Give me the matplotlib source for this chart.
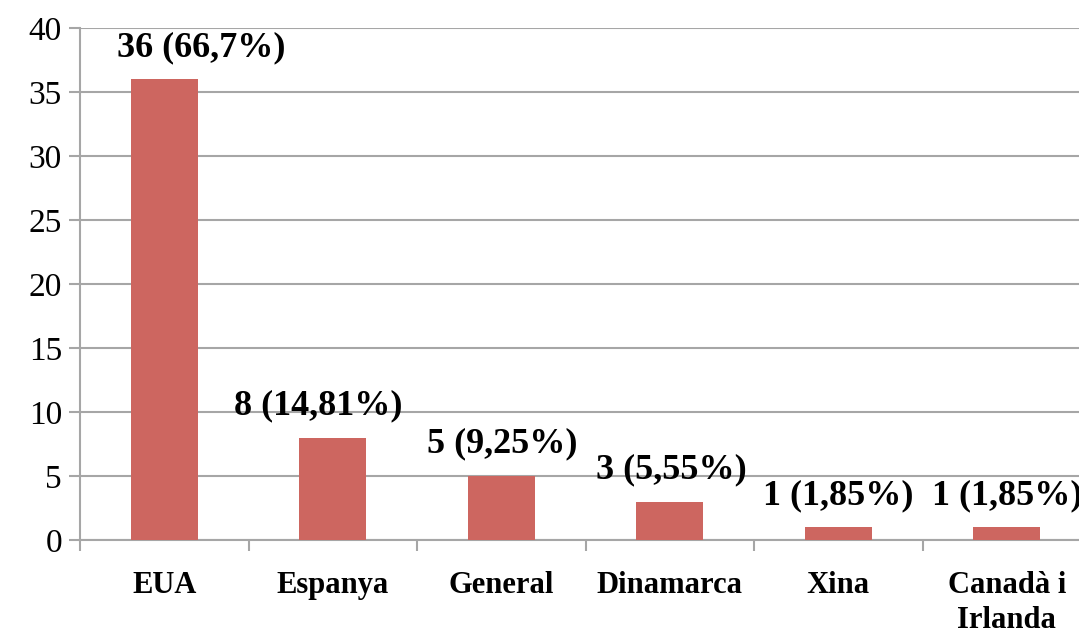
import numpy as np
import matplotlib.pyplot as plt

categories = ["EUA", "Espanya", "General", "Dinamarca", "Xina", "Canadà i\nIrlanda"]
counts = [36, 8, 5, 3, 1, 1]
labels = ["36 (66,7%)", "8 (14,81%)", "5 (9,25%)", "3 (5,55%)", "1 (1,85%)", "1 (1,85%)"]
yticks = [0, 5, 10, 15, 20, 25, 30, 35, 40]

BAR_COL = "#CD6660"
GRID_COL = "#A6A6A6"

plt.rcParams["font.family"] = ["Liberation Serif", "DejaVu Serif"]

fig = plt.figure(figsize=(10.79, 6.28), dpi=100)
ax = fig.add_axes([80 / 1079, 1 - 540 / 628, (1091 - 80) / 1079, (540 - 28) / 628])

x = np.arange(len(categories))
ax.bar(x, counts, width=0.4, color=BAR_COL, zorder=3)

# label x-offsets in pixels (points at dpi 100 -> *0.72)
dx = [37, -15, 1, 2, 0, 0]
for xi, c, lab, d in zip(x, counts, labels, dx):
    ax.annotate(lab, (xi, c), xytext=(d * 0.72, 11), textcoords="offset points",
                ha="center", va="bottom", fontsize=26, fontweight="bold", zorder=4,
                annotation_clip=False)

ax.set_xlim(-0.5, len(categories) - 0.5)
ax.set_ylim(0, 40)
ax.set_yticks(yticks)
ax.yaxis.grid(True, color=GRID_COL, linewidth=1.5, zorder=0)
ax.set_axisbelow(True)

ax.set_xticks(np.arange(len(categories) + 1) - 0.5)
ax.set_xticklabels([])
ax.set_xticks(x, minor=True)
ax.set_xticklabels(categories, minor=True, fontsize=22, fontweight="bold", linespacing=1.3)
ax.tick_params(axis="x", which="minor", length=0, pad=22)
ax.tick_params(axis="x", which="major", length=8, width=1.5, color=GRID_COL, direction="out")
ax.tick_params(axis="y", length=8, width=1.5, color=GRID_COL, labelsize=24, pad=5)

for s in ["top", "right"]:
    ax.spines[s].set_visible(False)
for s in ["left", "bottom"]:
    ax.spines[s].set_color(GRID_COL)
    ax.spines[s].set_linewidth(1.5)

fig.savefig("out.png", dpi=100)
